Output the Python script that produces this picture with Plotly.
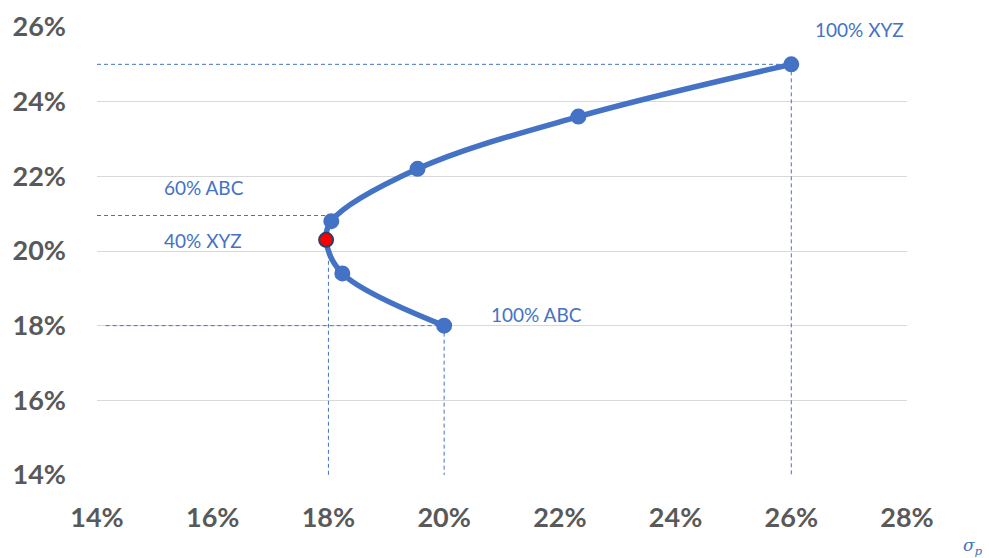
import plotly.graph_objects as go

# Portfolio frontier points (sigma_p %, E[r] %)
sigma = [20.0, 18.24, 17.96, 18.05, 19.54, 22.32, 26.0]
ret = [18.0, 19.4, 20.3, 20.8, 22.2, 23.6, 25.0]
marker_colors = ["#4472C4", "#4472C4", "#FF0000", "#4472C4", "#4472C4", "#4472C4", "#4472C4"]

# Dashed guide lines (x0, y0, x1, y1)
guides = [
    (14.0, 25.0, 26.0, 25.0),
    (26.0, 25.0, 26.0, 14.0),
    (14.0, 20.95, 18.05, 20.95),
    (18.0, 20.3, 18.0, 14.0),
    (14.15, 18.0, 20.0, 18.0),
    (20.0, 18.0, 20.0, 14.0),
]

labels = ["100% XYZ", "60% ABC", "40% XYZ", "100% ABC"]
label_x = [26.37, 15.12, 15.12, 20.78]
label_y = [25.92, 21.69, 20.27, 18.29]

y_ticks = [14, 16, 18, 20, 22, 24, 26]
x_ticks = [14, 16, 18, 20, 22, 24, 26, 28]

BLUE = "#4472C4"
fig = go.Figure()

for (x0, y0, x1, y1) in guides:
    fig.add_trace(go.Scatter(x=[x0, x1], y=[y0, y1], mode="lines",
                             line=dict(color=BLUE, width=1, dash="4px,3px"),
                             hoverinfo="skip", showlegend=False))

fig.add_trace(go.Scatter(
    x=sigma, y=ret, mode="lines+markers",
    line=dict(color=BLUE, width=5.5, shape="spline", smoothing=1.0),
    marker=dict(size=14, color=marker_colors,
                line=dict(color=["#4472C4"] * 2 + ["#2F3F66"] + ["#4472C4"] * 4, width=2)),
    showlegend=False))

for t, x, y in zip(labels, label_x, label_y):
    fig.add_annotation(x=x, y=y, text=t, showarrow=False, xanchor="left", yanchor="middle",
                       font=dict(family="Lato", size=19, color=BLUE))

fig.add_annotation(xref="paper", yref="paper", x=1.096, y=-0.16, text="σ<sub>p</sub>",
                   showarrow=False, xanchor="right", yanchor="middle",
                   font=dict(family="DejaVu Serif", size=17, color=BLUE, style="italic"))

fig.update_layout(
    width=989, height=558,
    margin=dict(l=97, r=82, t=27, b=83, autoexpand=False),
    plot_bgcolor="white", paper_bgcolor="white",
    xaxis=dict(range=[14, 28], tickvals=x_ticks, ticktext=[f"{v}%" for v in x_ticks],
               showgrid=False, zeroline=False, showline=False, automargin=False,
               ticklabelstandoff=24,
               tickfont=dict(family="Lato", size=27, color="#595959", weight="bold")),
    yaxis=dict(range=[14, 26], tickvals=y_ticks, ticktext=[f"{v}%" for v in y_ticks],
               showgrid=True, gridcolor="#D9D9D9", gridwidth=1.3, zeroline=False, showline=False,
               automargin=False, ticklabelstandoff=30,
               tickfont=dict(family="Lato", size=27, color="#595959", weight="bold")),
)

fig.write_html("out.html", config={"displayModeBar": False},
               post_script="document.body.style.margin='0';")
